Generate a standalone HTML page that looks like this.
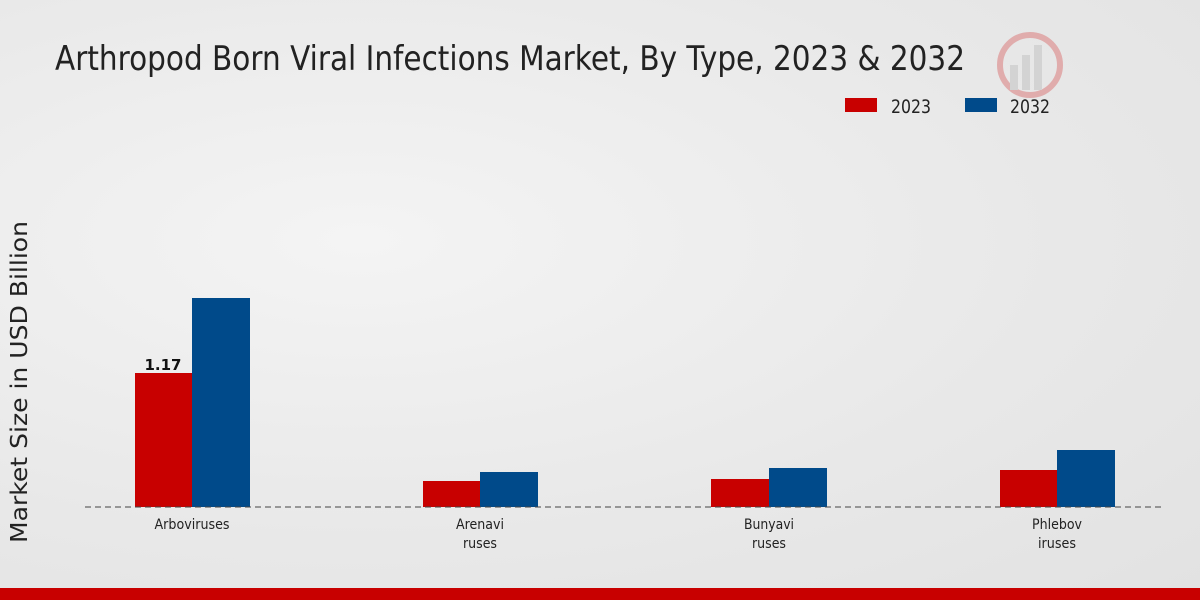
<!DOCTYPE html>
<html><head><meta charset="utf-8"><style>
html,body{margin:0;padding:0;}
body{width:1200px;height:600px;overflow:hidden;background:radial-gradient(ellipse at 30% 40%,#f4f4f4 0%,#e8e8e8 60%,#e2e2e2 100%);}
</style></head><body>
<svg width="1200" height="600" xmlns="http://www.w3.org/2000/svg" style="position:absolute;left:0;top:0;font-family:'DejaVu Sans','Liberation Sans',sans-serif;">
<text x="55" y="70" font-size="34" fill="#222" textLength="910" lengthAdjust="spacingAndGlyphs">Arthropod Born Viral Infections Market, By Type, 2023 &amp; 2032</text>
<g opacity="0.25">
<circle cx="1030" cy="65" r="30" fill="none" stroke="#c00" stroke-width="6"/>
<rect x="1010" y="65" width="8" height="25" fill="#999"/><rect x="1022" y="55" width="8" height="35" fill="#999"/><rect x="1034" y="45" width="8" height="45" fill="#999"/>
</g>
<rect x="845" y="98" width="32" height="14" fill="#c80000"/>
<text x="891" y="113" font-size="19" fill="#222" textLength="40" lengthAdjust="spacingAndGlyphs">2023</text>
<rect x="965" y="98" width="32" height="14" fill="#004a8a"/>
<text x="1010" y="113" font-size="19" fill="#222" textLength="40" lengthAdjust="spacingAndGlyphs">2032</text>
<text transform="translate(27,382) rotate(-90)" text-anchor="middle" font-size="23" fill="#222" textLength="322" lengthAdjust="spacingAndGlyphs">Market Size in USD Billion</text>
<rect x="135" y="373" width="57" height="134" fill="#c80000"/>
<rect x="192" y="298" width="58" height="209" fill="#004a8a"/>
<rect x="423" y="481" width="57" height="26" fill="#c80000"/>
<rect x="480" y="472" width="58" height="35" fill="#004a8a"/>
<rect x="711" y="479" width="58" height="28" fill="#c80000"/>
<rect x="769" y="468" width="58" height="39" fill="#004a8a"/>
<rect x="1000" y="470" width="57" height="37" fill="#c80000"/>
<rect x="1057" y="450" width="58" height="57" fill="#004a8a"/>
<line x1="85" y1="507" x2="1165" y2="507" stroke="#444" stroke-width="1" stroke-dasharray="6,4"/>
<text x="163" y="370" text-anchor="middle" font-size="15" font-weight="bold" fill="#111">1.17</text>
<g font-size="14" fill="#222" text-anchor="middle">
<text x="192" y="529" textLength="75" lengthAdjust="spacingAndGlyphs">Arboviruses</text>
<text x="480" y="529" textLength="48" lengthAdjust="spacingAndGlyphs">Arenavi</text><text x="480" y="548" textLength="34" lengthAdjust="spacingAndGlyphs">ruses</text>
<text x="769" y="529" textLength="50" lengthAdjust="spacingAndGlyphs">Bunyavi</text><text x="769" y="548" textLength="34" lengthAdjust="spacingAndGlyphs">ruses</text>
<text x="1057" y="529" textLength="50" lengthAdjust="spacingAndGlyphs">Phlebov</text><text x="1057" y="548" textLength="38" lengthAdjust="spacingAndGlyphs">iruses</text>
</g>
<rect x="0" y="588" width="1200" height="12" fill="#c80000"/>
</svg>
</body></html>
